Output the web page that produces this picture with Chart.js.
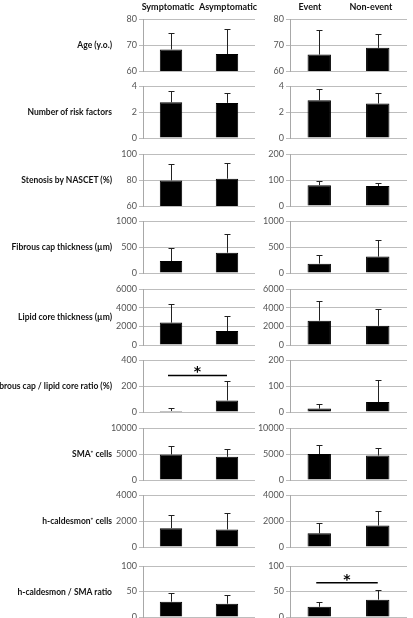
<!DOCTYPE html>
<html>
<head>
<meta charset="utf-8">
<script src="https://cdn.jsdelivr.net/npm/chart.js@4"></script>
<style>
  body { margin: 0; background: #fff; }
  #wrap { position: relative; width: 413px; height: 618px; overflow: hidden; font-family: Lato, "Open Sans", sans-serif; }
  canvas { position: absolute; }
  .rowlab { position: absolute; right: 301px; font-weight: bold; font-size: 8.5px; color: #111; white-space: nowrap; transform: translateY(-50%); }
  .head { position: absolute; top: 1px; font-weight: bold; font-size: 9px; color: #111; white-space: nowrap; transform: translateX(-50%); }
</style>
</head>
<body>
<div id="wrap"></div>
<script>
// data
var rowLabels = ["Age (y.o.)", "Number of risk factors", "Stenosis by NASCET (%)",
  "Fibrous cap thickness (\u00b5m)", "Lipid core thickness (\u00b5m)", "Fibrous cap / lipid core ratio (%)",
  "SMA\u207a cells", "h-caldesmon\u207a cells", "h-caldesmon / SMA ratio"];

var symptomCats = ["Symptomatic", "Asymptomatic"];
var eventCats = ["Event", "Non-event"];

// means and SD: [Symptomatic, Asymptomatic]
var symMean = [[68.3, 66.5], [2.75, 2.7], [79.7, 81], [230, 390], [2400, 1500], [8, 89], [4900, 4450], [1450, 1350], [30, 26]];
var symSD   = [[6.2, 9.7], [0.9, 0.75], [12.3, 12], [260, 360], [2000, 1650], [23, 146], [1600, 1600], [1000, 1300], [18, 17]];
// means and SD: [Event, Non-event]
var evMean  = [[66.3, 68.9], [2.9, 2.65], [80, 77], [180, 315], [2600, 2050], [13, 38], [5000, 4700], [1050, 1650], [20, 34]];
var evSD    = [[9.4, 5.3], [0.85, 0.85], [17, 11], [175, 315], [2150, 1850], [18, 87], [1700, 1550], [800, 1100], [10, 19]];

// axis ranges: [min, max, step]
var symAxis = [[60, 80, 10], [0, 4, 2], [60, 100, 20], [0, 1000, 500], [0, 6000, 2000], [0, 400, 200], [0, 10000, 5000], [0, 4000, 2000], [0, 100, 50]];
var evAxis  = [[60, 80, 10], [0, 4, 2], [0, 200, 100], [0, 1000, 500], [0, 6000, 2000], [0, 200, 100], [0, 10000, 5000], [0, 4000, 2000], [0, 100, 50]];

// significance bars (value on y axis), null = none
var symSig = [null, null, null, null, null, 281, null, null, null];
var evSig  = [null, null, null, null, null, null, null, null, 67];

// layout of the plot areas
var plotTop = [19, 86, 154, 221, 289, 360, 428, 495, 566];
var plotH   = [52, 52, 52, 52, 56, 52, 52, 52, 51];

var errorBars = {
  id: "errorBars",
  afterDatasetsDraw: function(chart) {
    var ctx = chart.ctx;
    var sd = chart.options.plugins.errorBars.sd;
    var sig = chart.options.plugins.errorBars.sig;
    var meta = chart.getDatasetMeta(0);
    var y = chart.scales.y;
    ctx.save();
    ctx.strokeStyle = "#222";
    ctx.lineWidth = 1;
    meta.data.forEach(function(bar, i) {
      var v = chart.data.datasets[0].data[i];
      var x = Math.round(bar.x) + 0.5;
      var top = Math.round(y.getPixelForValue(v + sd[i])) + 0.5;
      ctx.beginPath();
      ctx.moveTo(x, bar.y);
      ctx.lineTo(x, top);
      ctx.moveTo(x - 3, top);
      ctx.lineTo(x + 3, top);
      ctx.stroke();
    });
    if (sig !== null) {
      var sy = y.getPixelForValue(sig);
      var x0 = meta.data[0].x - 3, x1 = meta.data[1].x;
      ctx.lineWidth = 1.5;
      ctx.strokeStyle = "#000";
      ctx.beginPath();
      ctx.moveTo(x0, sy);
      ctx.lineTo(x1, sy);
      ctx.stroke();
      ctx.fillStyle = "#000";
      ctx.font = "bold 14px 'DejaVu Sans', sans-serif";
      ctx.textAlign = "center";
      ctx.textBaseline = "alphabetic";
      ctx.fillText("*", (x0 + x1) / 2, sy + 1);
    }
    ctx.restore();
  }
};

var wrap = document.getElementById("wrap");

function addText(cls, txt, styles) {
  var d = document.createElement("div");
  d.className = cls;
  d.textContent = txt;
  for (var k in styles) d.style[k] = styles[k];
  wrap.appendChild(d);
}

function makeChart(left, width, axisW, row, cats, means, sds, axis, sig) {
  var c = document.createElement("canvas");
  c.width = width;
  c.height = plotH[row] + 16;
  c.style.left = left + "px";
  c.style.top = (plotTop[row] - 8) + "px";
  wrap.appendChild(c);
  new Chart(c, {
    type: "bar",
    data: {
      labels: cats,
      datasets: [{
        data: means,
        backgroundColor: "#000",
        borderColor: "#000",
        borderWidth: 1,
        barPercentage: 0.4,
        categoryPercentage: 1
      }]
    },
    options: {
      responsive: false,
      animation: false,
      events: [],
      layout: { padding: { top: 8, bottom: 8, right: 5, left: 0 } },
      plugins: {
        legend: { display: false },
        tooltip: { enabled: false },
        errorBars: { sd: sds, sig: sig }
      },
      scales: {
        x: { display: false },
        y: {
          min: axis[0], max: axis[1],
          afterFit: function(s) { s.width = axisW; },
          ticks: {
            stepSize: axis[2], padding: 2, color: "#555",
            font: { family: "Lato", size: 9 },
            callback: function(v) { return String(v); }
          },
          grid: { color: "#bdbdbd", lineWidth: 1, tickLength: 4 },
          border: { color: "#a8a8a8" }
        }
      }
    },
    plugins: [errorBars]
  });
}

for (var r = 0; r < rowLabels.length; r++) {
  makeChart(100, 160, 43, r, symptomCats, symMean[r], symSD[r], symAxis[r], symSig[r]);
  makeChart(248, 164, 42, r, eventCats, evMean[r], evSD[r], evAxis[r], evSig[r]);
  addText("rowlab", rowLabels[r], { top: (plotTop[r] + plotH[r] / 2) + "px" });
}

addText("head", symptomCats[0], { left: "168px" });
addText("head", symptomCats[1], { left: "228px" });
addText("head", eventCats[0], { left: "310px" });
addText("head", eventCats[1], { left: "371px" });
</script>
</body>
</html>
